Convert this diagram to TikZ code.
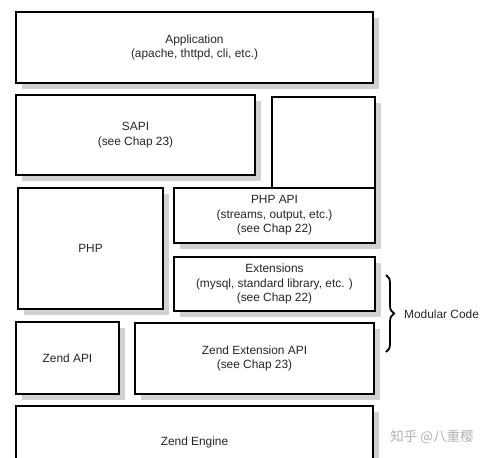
\documentclass[tikz,border=0pt]{standalone}
\usepackage{fontspec}
\setmainfont{Liberation Sans}
\newfontfamily\cjk{Noto Sans CJK SC}
\usetikzlibrary{shadows,decorations.pathreplacing}
\begin{document}
\begin{tikzpicture}[x=1pt,y=-1pt,
  layer/.style={draw=black, line width=1.4pt, fill=white, inner sep=0pt, outer sep=0pt,
    anchor=north west, align=center, font=\fontsize{11.9}{14.5}\selectfont, text=black!85,
    drop shadow={shadow xshift=6pt, shadow yshift=-6pt, fill=black!18, opacity=1}},
  lbl/.style={font=\fontsize{11.9}{14.5}\selectfont, text=black!85, inner sep=0pt},
]
\useasboundingbox (0,0) rectangle (489,457);
\clip (0,0) rectangle (489,457);
\node[layer, minimum width=357pt, minimum height=71pt] (app) at (16,12) {Application\\(apache, thttpd, cli, etc.)};
\node[layer, minimum width=239pt, minimum height=80pt] (sapi) at (16,95) {SAPI\\(see Chap 23)};
\node[layer, minimum width=103pt, minimum height=100pt] (blank) at (272,97) {};
\node[layer, minimum width=145pt, minimum height=121pt] (php) at (18,188) {PHP};
\node[layer, minimum width=201pt, minimum height=55pt] (phpapi) at (174,188) {PHP API\\(streams, output, etc.)\\(see Chap 22)};
\node[layer, minimum width=201pt, minimum height=54pt] (ext) at (174,257) {Extensions\\(mysql, standard library, etc. )\\(see Chap 22)};
\node[layer, minimum width=103pt, minimum height=72pt] (zapi) at (16,322) {Zend API};
\node[layer, minimum width=239pt, minimum height=71pt] (zext) at (135,323) {Zend Extension API\\(see Chap 23)};
\node[layer, minimum width=357pt, minimum height=72pt] (engine) at (16,406) {Zend Engine};
\coordinate (btop) at (386,275);
\coordinate (bbot) at (386,352);
\draw[line width=1.8pt, decorate, decoration={brace, amplitude=8pt}] (btop) -- (bbot);
\node[lbl, anchor=west] (mod) at (404,314) {Modular Code};
\node[anchor=center, inner sep=0pt, text=black!30, font=\cjk\fontsize{13.5}{15}\selectfont] (wm) at (432,437) {知乎 @八重樱};
\end{tikzpicture}
\end{document}
